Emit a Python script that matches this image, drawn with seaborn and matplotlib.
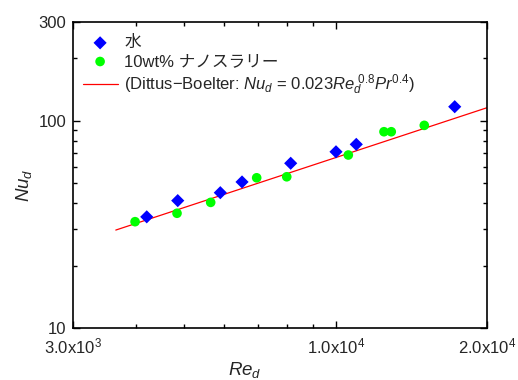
import matplotlib
matplotlib.use("Agg")
import matplotlib.pyplot as plt
import matplotlib.ticker as mticker
import seaborn as sns
import pandas as pd

# Data
water_re = [4206, 4848, 5892, 6509, 8135, 10012, 10987, 17250]
water_nu = [34.4, 41.2, 45.0, 50.7, 62.4, 70.9, 77.0, 117.0]
slurry_re = [3987, 4832, 5638, 6961, 7989, 10593, 12474, 12897, 15004]
slurry_nu = [32.6, 35.8, 40.4, 53.1, 53.7, 68.4, 88.6, 88.6, 95.1]
db_re = [3650, 20000]
db_nu = [29.7, 115.7]

x_ticks = [3000, 10000, 20000]
x_ticklabels = [r"3.0x10$^{3}$", r"1.0x10$^{4}$", r"2.0x10$^{4}$"]
y_ticks = [10, 100, 300]
y_ticklabels = ["10", "100", "300"]

label_water = "水"
label_slurry = "10wt% ナノスラリー"
label_db = r"(Dittus−Boelter: $\mathit{Nu}_{d}$ = 0.023$\mathit{Re}_{d}^{\ 0.8}\mathit{Pr}^{0.4}$)"

sns.set_theme(style="white")
plt.rcParams['font.family'] = ['Liberation Sans', 'Noto Sans CJK JP', 'DejaVu Sans']
plt.rcParams['mathtext.fontset'] = 'custom'
plt.rcParams['mathtext.rm'] = 'Liberation Sans'
plt.rcParams['mathtext.it'] = 'Liberation Sans:italic'
plt.rcParams['mathtext.bf'] = 'Liberation Sans:bold'

fig = plt.figure(figsize=(5.18, 3.80), dpi=100)
ax = fig.add_axes([73/518, 1-328/380, (487-73)/518, (328-22)/380])

df_w = pd.DataFrame({"Re": water_re, "Nu": water_nu})
df_s = pd.DataFrame({"Re": slurry_re, "Nu": slurry_nu})
df_l = pd.DataFrame({"Re": db_re, "Nu": db_nu})

sns.scatterplot(data=df_w, x="Re", y="Nu", ax=ax, marker="D", color="#0000ff",
                s=45, edgecolor="none", label=label_water, zorder=3)
sns.scatterplot(data=df_s, x="Re", y="Nu", ax=ax, marker="o", color="#00ff00",
                s=48, edgecolor="none", label=label_slurry, zorder=3)
sns.lineplot(data=df_l, x="Re", y="Nu", ax=ax, color="#ff0000", linewidth=0.9,
             label=label_db, zorder=2)

ax.set_xscale("log")
ax.set_yscale("log")
ax.set_xlim(3000, 20000)
ax.set_ylim(10, 300)

ax.xaxis.set_major_locator(mticker.FixedLocator(x_ticks))
ax.xaxis.set_major_formatter(mticker.FixedFormatter(x_ticklabels))
ax.xaxis.set_minor_locator(mticker.FixedLocator([4000, 5000, 6000, 7000, 8000, 9000]))
ax.xaxis.set_minor_formatter(mticker.NullFormatter())
ax.yaxis.set_major_locator(mticker.FixedLocator(y_ticks))
ax.yaxis.set_major_formatter(mticker.FixedFormatter(y_ticklabels))
ax.yaxis.set_minor_locator(mticker.FixedLocator([20, 30, 40, 50, 60, 70, 80, 90, 200]))
ax.yaxis.set_minor_formatter(mticker.NullFormatter())

ax.tick_params(which="both", direction="in", top=True, right=True, bottom=True, left=True,
               color="black", labelsize=12)
ax.tick_params(axis="x", which="both", pad=6)
ax.tick_params(axis="y", which="both", pad=5)
ax.tick_params(which="major", length=5, width=1)
ax.tick_params(which="minor", length=3, width=1)

for sp in ax.spines.values():
    sp.set_color("black")
    sp.set_linewidth(1.2)

ax.set_xlabel(r"$\mathit{Re}_{d}$", fontsize=13.5, labelpad=2)
ax.set_ylabel(r"$\mathit{Nu}_{d}$", fontsize=13.5)
ax.xaxis.set_label_coords(0.415, -0.105)
ax.yaxis.set_label_coords(-0.095, 0.467)

leg = ax.legend(loc="upper left", bbox_to_anchor=(-0.005, 0.995), frameon=False,
                fontsize=12, handlelength=2.1, handletextpad=0.4, labelspacing=0.22,
                borderaxespad=0.3)

fig.savefig("out.png", dpi=100)
